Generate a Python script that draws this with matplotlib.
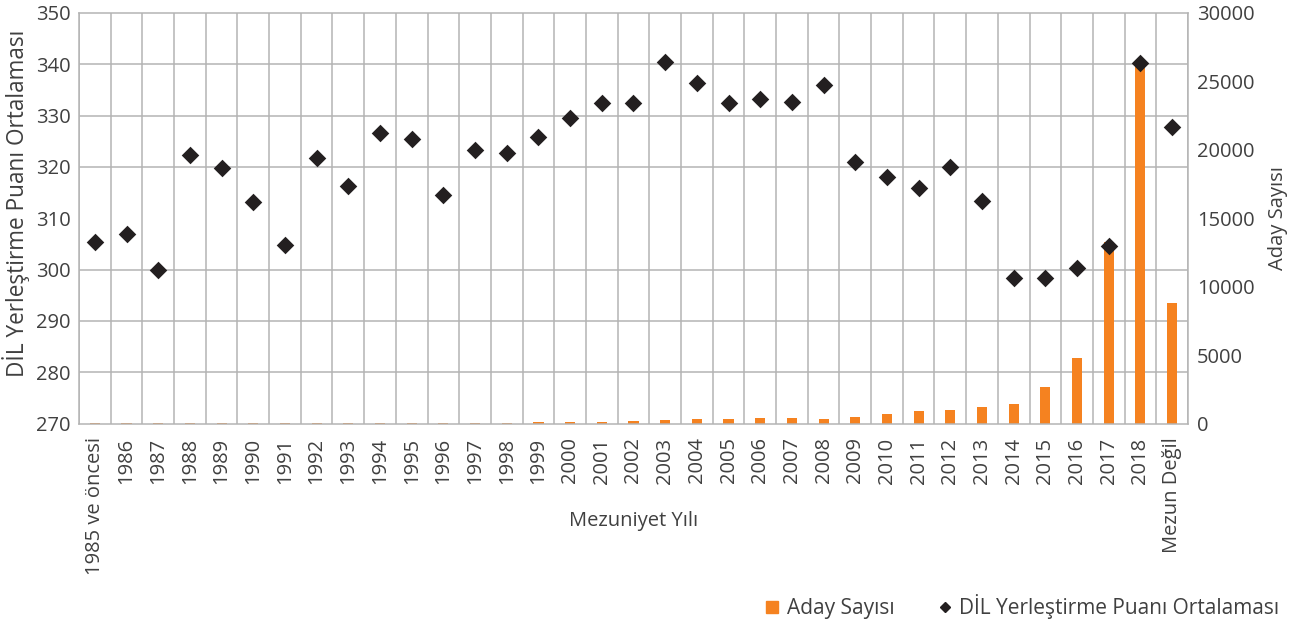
import numpy as np
import matplotlib
matplotlib.use("Agg")
import matplotlib.pyplot as plt
from matplotlib.lines import Line2D

plt.rcParams['font.family'] = ['Open Sans', 'DejaVu Sans']

years = ["1985 ve öncesi"] + [str(y) for y in range(1986, 2019)] + ["Mezun Değil"]
aday_sayisi = [70, 70, 70, 70, 70, 70, 70, 70, 70, 70, 70, 70, 70, 70,
               130, 130, 130, 210, 240, 310, 310, 410, 410, 310, 510, 700,
               900, 1000, 1210, 1410, 2670, 4790, 13300, 26300, 8800]
puan_ort = [305.3, 306.9, 300.0, 322.3, 319.7, 313.2, 304.8, 321.7, 316.3,
            326.7, 325.4, 314.5, 323.3, 322.8, 325.9, 329.5, 332.4, 332.4,
            340.4, 336.3, 332.4, 333.2, 332.7, 336.0, 321.0, 318.1, 315.8,
            319.9, 313.4, 298.3, 298.3, 300.4, 304.6, 340.2, 327.7]

ORANGE = '#f58220'
DARK = '#231f20'
TEXT = '#404040'
GRID = '#b4b4b4'

n = len(years)
x = np.arange(n)

fig = plt.figure(figsize=(13.02, 6.25), dpi=100)
ax = fig.add_axes([0.0607, 0.3224, 0.8517, 0.6568])

# bars (right axis)
ax.bar(x, aday_sayisi, width=0.32, color=ORANGE, zorder=2)
ax.set_xlim(-0.5, n - 0.5)
ax.set_ylim(0, 30000)
ax.set_yticks(np.arange(0, 30001, 5000))
ax.set_yticks(np.linspace(0, 30000, 9), minor=True)
ax.set_xticks(x)
ax.set_xticklabels(years, rotation=90, fontsize=14.5, color=TEXT)
ax.set_xticks(np.arange(n + 1) - 0.5, minor=True)
ax.grid(which='minor', color=GRID, lw=1.1)
ax.grid(which='major', visible=False)
ax.set_axisbelow(True)
for s in ax.spines.values():
    s.set_color(GRID)
    s.set_linewidth(1.1)

# diamonds (left axis)
ax2 = ax.twinx()
ax2.scatter(x, puan_ort, marker='D', s=80, color=DARK, zorder=3, linewidths=0)
ax2.set_ylim(270, 350)
ax2.set_yticks(np.arange(270, 351, 10))
ax2.yaxis.tick_left()
ax2.yaxis.set_label_position('left')
ax2.set_ylabel('DİL Yerleştirme Puanı Ortalaması', fontsize=16.3, color=TEXT)
ax2.yaxis.set_label_coords(-0.044, 0.537)
for s in ax2.spines.values():
    s.set_visible(False)

ax.yaxis.tick_right()
ax.yaxis.set_label_position('right')
ax.set_ylabel('Aday Sayısı', fontsize=14.5, color=TEXT)
ax.yaxis.set_label_coords(1.072, 0.5)
ax.set_xlabel('Mezuniyet Yılı', fontsize=14.5, color=TEXT)
ax.xaxis.set_label_coords(0.5, -0.214)

ax.tick_params(which='both', length=0)
ax.tick_params(axis='x', pad=10)
ax.tick_params(axis='y', labelsize=14.5, labelcolor=TEXT, pad=6.5)
ax2.tick_params(length=0, labelsize=14.5, labelcolor=TEXT, pad=6)

handles = [Line2D([], [], marker='s', ls='none', color=ORANGE, markersize=8),
           Line2D([], [], marker='D', ls='none', color=DARK, markersize=5)]
fig.legend(handles, ['Aday Sayısı', 'DİL Yerleştirme Puanı Ortalaması'],
           loc='center right', bbox_to_anchor=(0.997, 0.029), ncol=2,
           frameon=False, fontsize=15, labelcolor=TEXT,
           handletextpad=0.2, columnspacing=1.9, handlelength=1.0)

fig.savefig('out.png', dpi=100)
